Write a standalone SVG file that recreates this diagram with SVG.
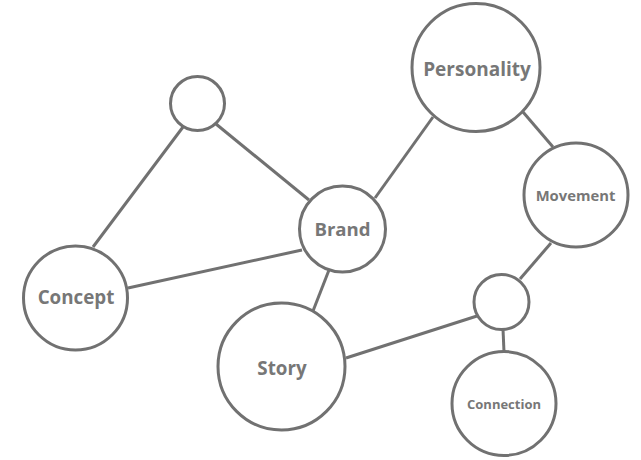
<svg xmlns="http://www.w3.org/2000/svg" width="641" height="460" viewBox="0 0 641 460">
<style>
.n{fill:#fff;stroke:#717171;stroke-width:3}
.e{stroke:#717171;stroke-width:3;fill:none}
.t{font-family:"Open Sans","DejaVu Sans",sans-serif;font-weight:bold;fill:#777;text-anchor:middle}
</style>
<rect width="641" height="460" fill="#fff"/>
<g id="connectors">
<line class="e" x1="93" y1="247" x2="183" y2="127"/>
<line class="e" x1="216" y1="124" x2="309" y2="200"/>
<line class="e" x1="128" y1="288" x2="302" y2="250"/>
<line class="e" x1="375" y1="198" x2="433" y2="117"/>
<line class="e" x1="523" y1="112" x2="553" y2="147"/>
<line class="e" x1="551" y1="243" x2="520" y2="279"/>
<line class="e" x1="346" y1="358" x2="477" y2="316"/>
<line class="e" x1="503" y1="329" x2="504" y2="352"/>
<line class="e" x1="329" y1="270" x2="313" y2="311"/>
</g>
<g id="node-top"><circle class="n" cx="197.5" cy="103.5" r="27"/></g>
<g id="node-personality"><circle class="n" cx="476" cy="67.5" r="64"/><text class="t" x="477" y="76" font-size="19">Personality</text></g>
<g id="node-movement"><circle class="n" cx="576" cy="195" r="52"/><text class="t" x="575.5" y="201" font-size="14.8">Movement</text></g>
<g id="node-brand"><circle class="n" cx="342.5" cy="229" r="43"/><text class="t" x="342.5" y="236" font-size="18.6">Brand</text></g>
<g id="node-concept"><circle class="n" cx="75.5" cy="298" r="52"/><text class="t" x="76" y="304" font-size="18.8">Concept</text></g>
<g id="node-story"><circle class="n" cx="281.5" cy="366.5" r="63.5"/><text class="t" x="282" y="375" font-size="18.8">Story</text></g>
<g id="node-right"><circle class="n" cx="501.5" cy="302" r="27.5"/></g>
<g id="node-connection"><circle class="n" cx="504" cy="403.5" r="52"/><text class="t" x="504" y="409" font-size="13">Connection</text></g>
</svg>
